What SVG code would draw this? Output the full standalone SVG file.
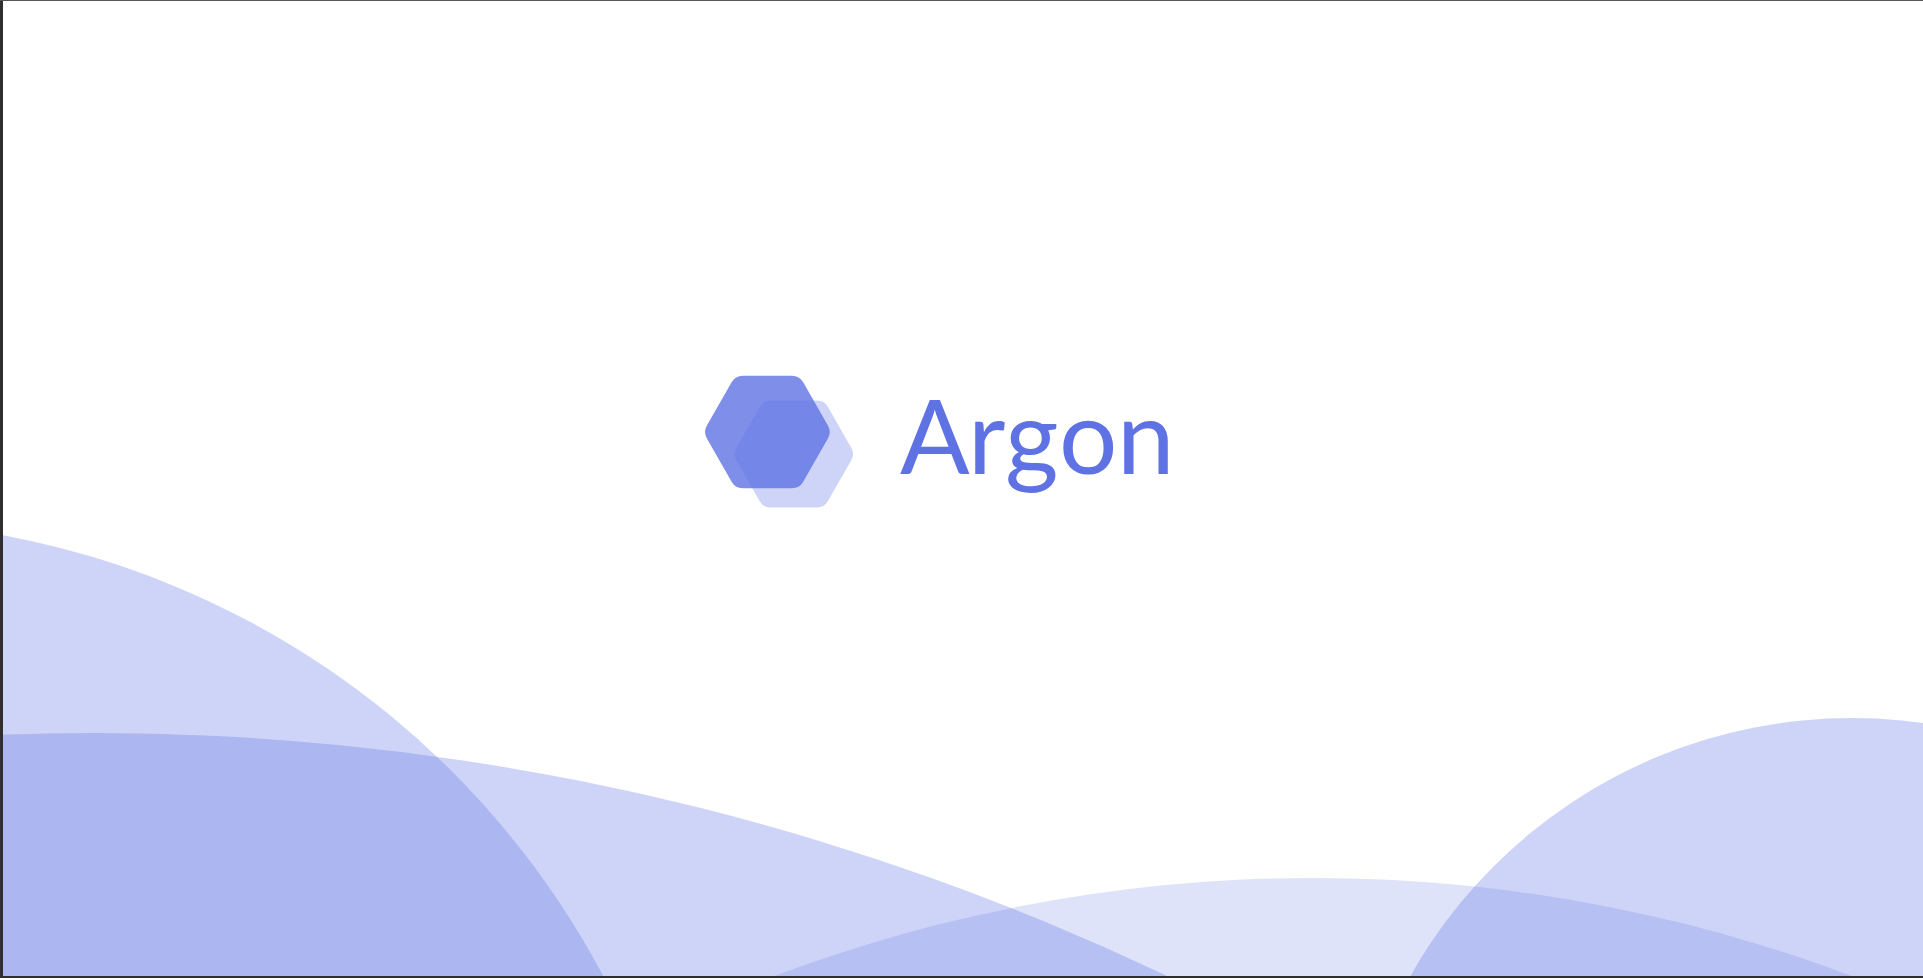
<svg xmlns="http://www.w3.org/2000/svg" width="1923" height="978" viewBox="0 0 1923 978">
<style>
.wave{fill:#5e72e4;fill-opacity:.3}
.wave-light{fill:#5e72e4;fill-opacity:.2}
.frame{fill:#2f2f2f}
text{font-family:"Lato","Liberation Sans",sans-serif;font-size:103px;fill:#5e72e4}
</style>
<defs>
<path id="hex" d="M-24.5 -56.3H24.5A13 13 0 0 1 35.8 -49.8L60.5 -6.5A13 13 0 0 1 60.5 6.5L35.8 49.8A13 13 0 0 1 24.5 56.3H-24.5A13 13 0 0 1 -35.8 49.8L-60.5 6.5A13 13 0 0 1 -60.5 -6.5L-35.8 -49.8A13 13 0 0 1 -24.5 -56.3Z"/>
</defs>
<rect id="background" width="1923" height="978" fill="#fff"/>
<g id="waves">
<circle class="wave" cx="-153" cy="1377" r="856"/>
<circle class="wave" cx="94" cy="3223" r="2490"/>
<circle class="wave-light" cx="1313" cy="2408" r="1530"/>
<circle class="wave" cx="1852" cy="1225" r="507"/>
</g>
<g id="logo">
<use href="#hex" transform="translate(793.8 454) scale(.95)" fill="#5e72e4" fill-opacity=".3"/>
<use href="#hex" transform="translate(767.4 432)" fill="#5e72e4" fill-opacity=".8"/>
<text id="wordmark" x="900 968 1005 1059 1117" y="474">Argon</text>
</g>
<g id="frame">
<rect class="frame" x="0" y="0" width="3" height="978"/>
<rect x="0" y="0" width="1923" height="1" fill="#555"/>
<rect class="frame" x="0" y="976" width="1923" height="2"/>
</g>
</svg>
